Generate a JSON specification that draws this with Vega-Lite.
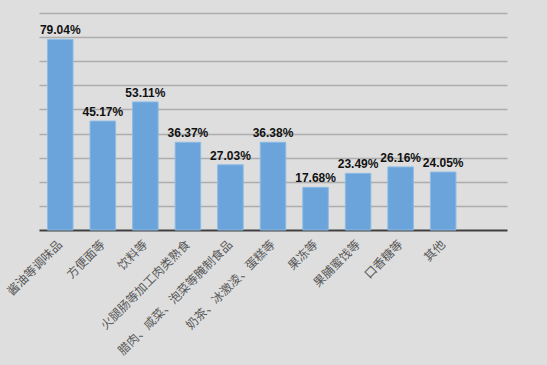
{
  "$schema": "https://vega.github.io/schema/vega-lite/v6.json",
  "autosize": "none",
  "padding": {"left": 39, "top": 13, "right": 40, "bottom": 135},
  "width": 468,
  "height": 217,
  "background": "#dedede",
  "config": {
    "view": {"stroke": null},
    "font": "Liberation Sans"
  },
  "data": {
    "values": [
      {"category": "酱油等调味品", "share": 0.7904},
      {"category": "方便面等", "share": 0.4517},
      {"category": "饮料等", "share": 0.5311},
      {"category": "火腿肠等加工肉类熟食", "share": 0.3637},
      {"category": "腊肉、咸菜、泡菜等腌制食品", "share": 0.2703},
      {"category": "奶茶、冰激凌、蛋糕等", "share": 0.3638},
      {"category": "果冻等", "share": 0.1768},
      {"category": "果脯蜜饯等", "share": 0.2349},
      {"category": "口香糖等", "share": 0.2616},
      {"category": "其他", "share": 0.2405}
    ]
  },
  "encoding": {
    "x": {
      "field": "category",
      "type": "nominal",
      "scale": {
        "domain": ["酱油等调味品", "方便面等", "饮料等", "火腿肠等加工肉类熟食", "腊肉、咸菜、泡菜等腌制食品", "奶茶、冰激凌、蛋糕等", "果冻等", "果脯蜜饯等", "口香糖等", "其他", " "],
        "paddingInner": 0.4,
        "paddingOuter": 0.2
      },
      "axis": {
        "title": null,
        "labelAngle": -45,
        "labelAlign": "right",
        "labelBaseline": "middle",
        "labelPadding": 12,
        "labelFont": "Noto Sans CJK SC",
        "labelFontSize": 12,
        "labelColor": "#595959",
        "labelLimit": 0,
        "ticks": false,
        "domainColor": "#404040",
        "domainWidth": 2,
        "grid": false
      }
    },
    "y": {
      "field": "share",
      "type": "quantitative",
      "scale": {"domain": [0, 0.9], "nice": false},
      "axis": {
        "title": null,
        "labels": false,
        "ticks": false,
        "domain": false,
        "values": [0.1, 0.2, 0.3, 0.4, 0.5, 0.6, 0.7, 0.8, 0.9],
        "gridColor": "#9c9c9c",
        "gridWidth": 1.5,
        "gridOpacity": 0.75
      }
    }
  },
  "layer": [
    {
      "mark": {"type": "bar", "color": "#6aa4da", "stroke": "#8cbbe6", "strokeWidth": 1}
    },
    {
      "mark": {"type": "text", "baseline": "bottom", "dy": -2, "fontWeight": "bold", "fontSize": 12, "color": "#111111", "font": "Liberation Sans"},
      "encoding": {
        "text": {"field": "share", "type": "quantitative", "format": ".2%"}
      }
    }
  ]
}
